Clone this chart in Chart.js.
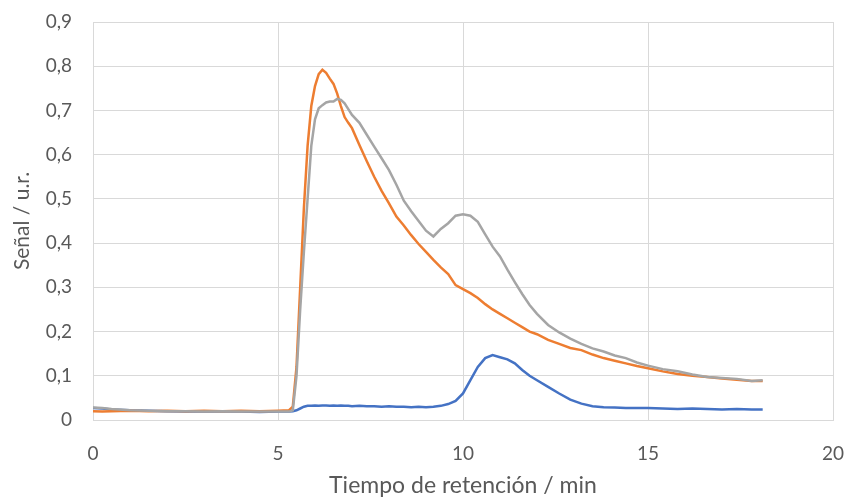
<!DOCTYPE html>
<html>
<head>
<meta charset="utf-8">
<script src="https://cdn.jsdelivr.net/npm/chart.js@4.4.0/dist/chart.umd.min.js"></script>
<style>
  html, body { margin: 0; padding: 0; background: #fff; }
</style>
</head>
<body>
<canvas id="grafico" width="847" height="497"></canvas>
<script>
// tiempo de retención (min), compartido por las tres señales
var tiempo = [0, 0.25, 0.5, 1, 1.5, 2, 2.5, 3, 3.5, 4, 4.5, 5, 5.3, 5.4, 5.5, 5.6, 5.7, 5.8, 5.9, 6.0,
  6.1, 6.2, 6.3, 6.4, 6.5, 6.6, 6.7, 6.8, 6.9, 7.0, 7.2, 7.4, 7.6, 7.8, 8.0, 8.2, 8.4, 8.6, 8.8, 9.0,
  9.2, 9.4, 9.6, 9.8, 10.0, 10.2, 10.4, 10.6, 10.8, 11.0, 11.2, 11.4, 11.6, 11.8, 12.0, 12.3, 12.6, 12.9,
  13.2, 13.5, 13.8, 14.1, 14.4, 14.7, 15.0, 15.4, 15.8, 16.2, 16.6, 17.0, 17.4, 17.8, 18.1];

var serieAzul = [0.027, 0.026, 0.024, 0.022, 0.021, 0.020, 0.019, 0.020, 0.019, 0.019, 0.018, 0.019, 0.019, 0.020, 0.022, 0.026, 0.030, 0.032, 0.032, 0.033,
  0.032, 0.033, 0.033, 0.032, 0.033, 0.032, 0.033, 0.032, 0.032, 0.031, 0.032, 0.031, 0.031, 0.030, 0.031, 0.030, 0.030, 0.029, 0.030, 0.029,
  0.030, 0.032, 0.036, 0.043, 0.060, 0.090, 0.120, 0.140, 0.147, 0.142, 0.137, 0.128, 0.113, 0.100, 0.090, 0.075, 0.060, 0.046,
  0.037, 0.031, 0.029, 0.028, 0.027, 0.027, 0.027, 0.026, 0.025, 0.026, 0.025, 0.024, 0.025, 0.024, 0.024];

var serieNaranja = [0.020, 0.019, 0.020, 0.021, 0.020, 0.021, 0.020, 0.021, 0.020, 0.021, 0.020, 0.021, 0.022, 0.030, 0.120, 0.300, 0.480, 0.620, 0.710, 0.755,
  0.782, 0.792, 0.785, 0.772, 0.760, 0.738, 0.710, 0.685, 0.672, 0.660, 0.622, 0.585, 0.550, 0.518, 0.490, 0.460, 0.440, 0.418, 0.398, 0.380,
  0.362, 0.345, 0.330, 0.305, 0.296, 0.287, 0.276, 0.262, 0.250, 0.240, 0.230, 0.220, 0.210, 0.200, 0.194, 0.181, 0.172, 0.163,
  0.158, 0.148, 0.140, 0.134, 0.128, 0.122, 0.117, 0.110, 0.104, 0.100, 0.097, 0.094, 0.091, 0.088, 0.088];

var serieGris = [0.028, 0.027, 0.025, 0.022, 0.021, 0.020, 0.020, 0.019, 0.020, 0.019, 0.019, 0.019, 0.019, 0.022, 0.100, 0.250, 0.380, 0.500, 0.620, 0.680,
  0.705, 0.712, 0.718, 0.720, 0.720, 0.726, 0.724, 0.716, 0.703, 0.690, 0.672, 0.645, 0.618, 0.592, 0.565, 0.532, 0.496, 0.472, 0.450, 0.428,
  0.415, 0.432, 0.445, 0.462, 0.465, 0.462, 0.448, 0.420, 0.392, 0.370, 0.340, 0.312, 0.285, 0.260, 0.240, 0.215, 0.198, 0.184,
  0.172, 0.162, 0.155, 0.146, 0.140, 0.130, 0.123, 0.115, 0.110, 0.103, 0.097, 0.095, 0.093, 0.088, 0.090];

var tituloX = 'Tiempo de retención / min';
var tituloY = 'Señal / u.r.';

var gris = '#595959';
var rejilla = '#d9d9d9';
var fuente = "Lato, 'Open Sans', sans-serif";

function puntos(serie) {
  return tiempo.map((t, i) => ({ x: t, y: serie[i] }));
}

function linea(serie, color, orden) {
  return {
    data: puntos(serie),
    borderColor: color,
    backgroundColor: color,
    borderWidth: 2.5,
    pointRadius: 0,
    showLine: true,
    fill: false,
    order: orden
  };
}

var grafico = new Chart(document.getElementById('grafico'), {
  type: 'scatter',
  data: {
    datasets: [
      linea(serieAzul, '#4472c4', 3),
      linea(serieNaranja, '#ed7d31', 2),
      linea(serieGris, '#a5a5a5', 1)
    ]
  },
  options: {
    responsive: false,
    animation: false,
    devicePixelRatio: 1,
    layout: { padding: { left: 0, right: 14, top: 22, bottom: 0 } },
    plugins: { legend: { display: false }, tooltip: { enabled: false } },
    scales: {
      x: {
        type: 'linear',
        min: 0,
        max: 20,
        afterFit: s => { s.height = 77; s.paddingLeft = 0; s.paddingRight = 0; },
        grid: { color: rejilla, drawTicks: false },
        border: { color: rejilla },
        ticks: {
          stepSize: 5,
          padding: 22,
          color: gris,
          font: { family: fuente, size: 19 }
        },
        title: {
          display: true,
          text: tituloX,
          color: gris,
          font: { family: fuente, size: 23, lineHeight: 1 },
          padding: { top: 0, bottom: 0 }
        }
      },
      y: {
        min: 0,
        max: 0.9,
        afterFit: s => { s.width = 93; s.paddingTop = 0; s.paddingBottom = 0; },
        grid: { color: rejilla, drawTicks: false },
        border: { color: rejilla },
        ticks: {
          stepSize: 0.1,
          padding: 21,
          color: gris,
          font: { family: fuente, size: 19 },
          callback: v => v === 0 ? '0' : v.toFixed(1).replace('.', ',')
        },
        title: {
          display: true,
          text: tituloY,
          color: gris,
          font: { family: fuente, size: 21 },
          padding: { top: 10, bottom: 0 }
        }
      }
    }
  }
});
</script>
</body>
</html>
